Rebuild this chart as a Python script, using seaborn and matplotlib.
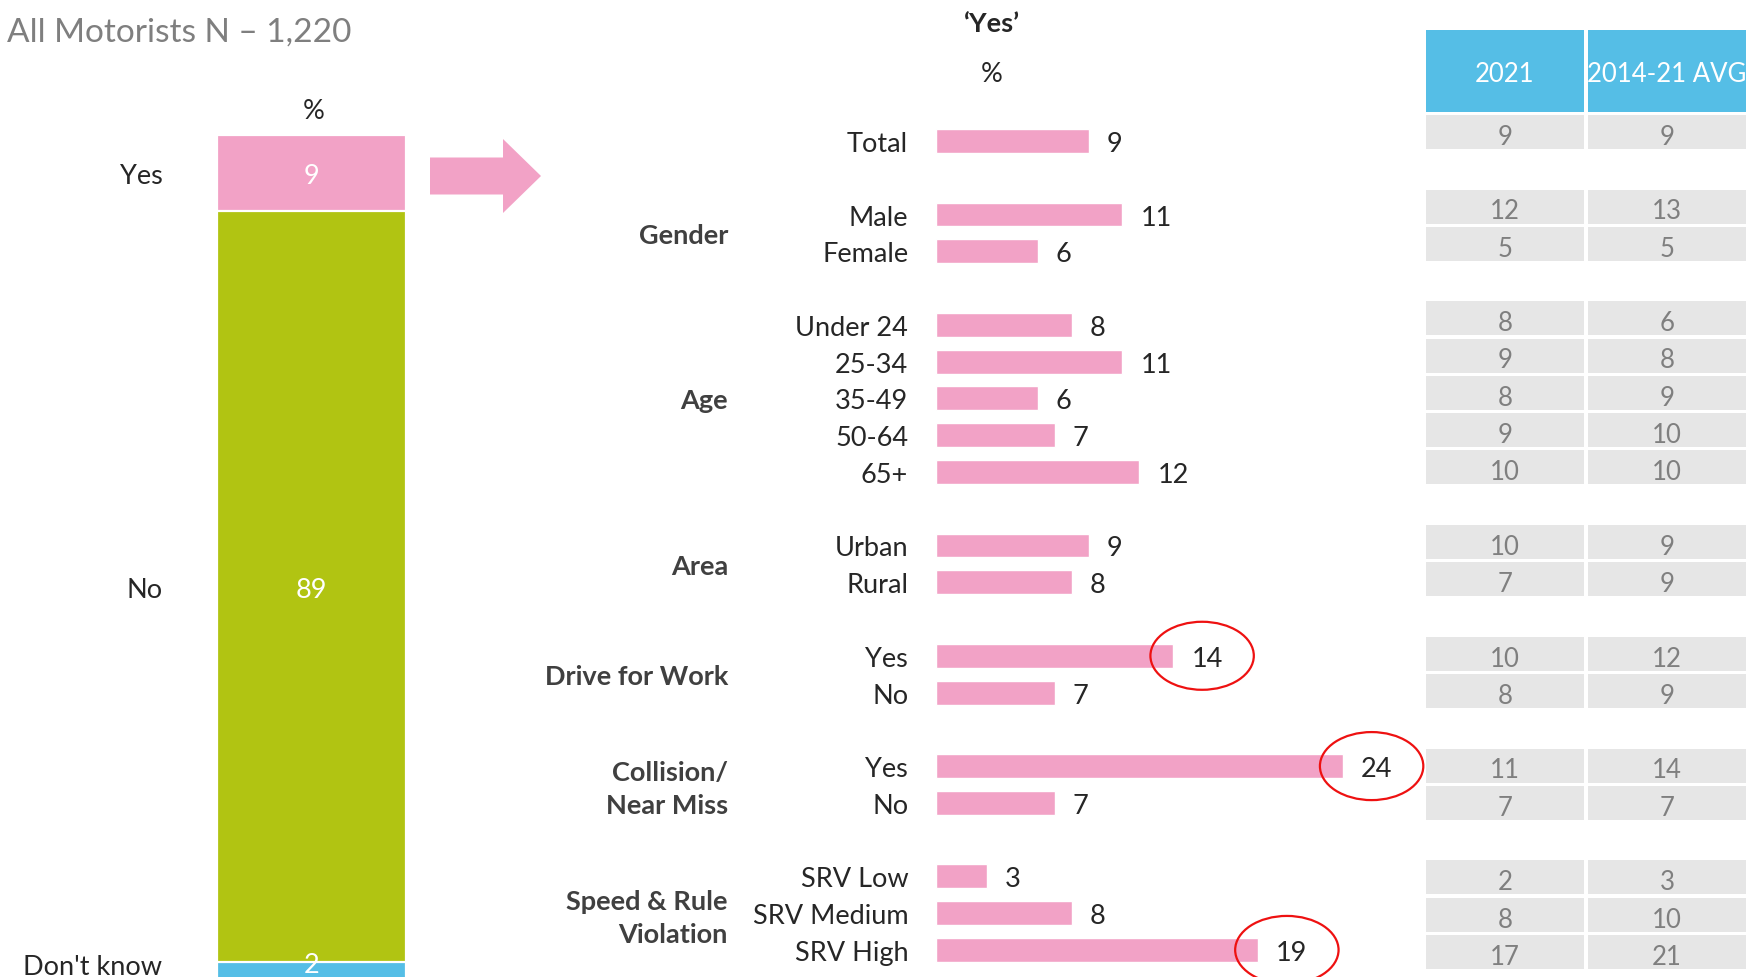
import numpy as np
import pandas as pd
import matplotlib.pyplot as plt
import seaborn as sns
from matplotlib.patches import Ellipse, Polygon, Rectangle
from matplotlib.transforms import blended_transform_factory

sns.set_style('white')
plt.rcParams['font.family'] = ['Lato', 'DejaVu Sans']

# overall answer split (left stacked bar)
answers = ['Yes', 'No', "Don't know"]
answer_pct = [9, 89, 2]

# 'Yes' % by sub-group
group_names = ['', 'Gender', 'Age', 'Area', 'Drive for Work',
               'Collision/\nNear Miss', 'Speed & Rule\nViolation']
group_items = [['Total'],
               ['Male', 'Female'],
               ['Under 24', '25-34', '35-49', '50-64', '65+'],
               ['Urban', 'Rural'],
               ['Yes', 'No'],
               ['Yes', 'No'],
               ['SRV Low', 'SRV Medium', 'SRV High']]
yes_pct = [9, 11, 6, 8, 11, 6, 7, 12, 9, 8, 14, 7, 24, 7, 3, 8, 19]

# comparison table
table_cols = ['2021', '2014-21 AVG']
pct_2021 = [9, 12, 5, 8, 9, 8, 9, 10, 10, 7, 10, 8, 11, 7, 2, 8, 17]
pct_avg = [9, 13, 5, 6, 8, 9, 10, 10, 9, 9, 12, 9, 14, 7, 3, 10, 21]

# rows that get a red ring (Drive for Work Yes, Collision Yes, SRV High)
circled = [10, 12, 16]

pink = '#F2A2C6'
answer_colors = [pink, '#B1C412', '#55BEE6']
FS = 19.5
VA = 'center_baseline'

# row layout: one blank row between groups
rows, labels, group_mid = [], [], []
r = 0
for items in group_items:
    start = r
    for it in items:
        rows.append(r)
        labels.append(it)
        r += 1
    group_mid.append((start + r - 1) / 2)
    r += 1
last_row = r - 2

df = pd.DataFrame({'row': rows, 'label': labels, 'pct': yes_pct})

W, H = 1759, 978
fig = plt.figure(figsize=(W / 100, H / 100), dpi=100)


def box(x0, y0, x1, y1):
    # pixel box (top-left origin) -> figure fraction rect
    return [x0 / W, 1 - y1 / H, (x1 - x0) / W, (y1 - y0) / H]


# ---- left stacked bar ----
lax = fig.add_axes(box(216.5, 136, 406, 136 + 100 * 8.44))
cum = np.cumsum(answer_pct)
for i in range(len(answers) - 1, -1, -1):
    sns.barplot(x=[0], y=[cum[i]], color=answer_colors[i], saturation=1,
                width=1, edgecolor='white', linewidth=1.6, ax=lax)
lax.set_xlim(-0.5, 0.5)
lax.set_ylim(100, 0)
mids = []
for i, v in enumerate(answer_pct):
    start = cum[i] - v
    mid = start + v / 2
    # keep labels inside the visible part of the bar (bottom is cropped)
    mids.append(min(mid, 98.2))
    # small segment: keep the number near its top edge so it stays visible
    ty = mid if v >= 5 else start
    lax.text(0, ty, str(v), color='white', ha='center', va=VA, fontsize=FS)
lax.set_yticks(mids)
lax.set_yticklabels(answers)
lax.tick_params(axis='y', length=0, pad=39, labelsize=FS)
lax.set_xticks([])
lax.set_xlabel('')
lax.set_ylabel('')
sns.despine(ax=lax, left=True, bottom=True)
fig.text(314 / W, 1 - 109 / H, '%', ha='center', va=VA, fontsize=FS)

# arrow
ax0, ax1, hx, cy, sw, hw = 430, 541, 503, 177, 18.5, 37
arrow_px = [(ax0, cy - sw), (hx, cy - sw), (hx, cy - hw), (ax1, cy),
            (hx, cy + hw), (hx, cy + sw), (ax0, cy + sw)]
fig.add_artist(Polygon([(x / W, 1 - y / H) for x, y in arrow_px],
                       closed=True, facecolor=pink, edgecolor='none',
                       transform=fig.transFigure))

# ---- middle bar chart ----
px_pct = 16.95
row_px = 36.77
ax = fig.add_axes(box(936, 142 - 0.5 * row_px, 936 + 30 * px_pct,
                      142 + (last_row + 0.5) * row_px))
sns.barplot(data=df, x='pct', y='row', orient='h', native_scale=True,
            color=pink, saturation=1, width=0.65, errorbar=None, ax=ax)
ax.set_xlim(0, 30)
ax.set_ylim(last_row + 0.5, -0.5)
for t in ax.bar_label(ax.containers[0], padding=13, fontsize=FS):
    t.set_va(VA)
ax.set_yticks(rows)
ax.set_yticklabels(labels)
ax.tick_params(axis='y', length=0, pad=20, labelsize=FS)
ax.set_xticks([])
ax.set_xlabel('')
ax.set_ylabel('')
sns.despine(ax=ax, left=True, bottom=True)

trans = blended_transform_factory(fig.transFigure, ax.transData)
for name, gm in zip(group_names, group_mid):
    if name:
        two_lines = '\n' in name
        ax.text(728 / W, gm + (0.12 if two_lines else 0), name, transform=trans,
                ha='right', va='center' if two_lines else VA,
                fontsize=FS, fontweight='bold', color='#404040', linespacing=1.45)

for i in circled:
    ax.add_patch(Ellipse((yes_pct[i] + 1.7, rows[i]), 6.1, 1.85, fill=False,
                         edgecolor='#EE1111', linewidth=1.6, clip_on=False))

fig.text(992 / W, 1 - 22 / H, '\u2018Yes\u2019', ha='center', va=VA,
         fontsize=FS, fontweight='bold')
fig.text(992 / W, 1 - 72 / H, '%', ha='center', va=VA, fontsize=FS)

# ---- right table ----
trow = 37.27
tax = fig.add_axes(box(1424, 133 - 3 * trow, 1748, 133 + (last_row + 0.5) * trow))
tax.set_xlim(0, 2)
tax.set_ylim(last_row + 0.5, -3)
tax.axis('off')
gap = 0.02
cell_h = 34 / trow
head_top, head_bot = -2.74, -0.54
for c, col in enumerate(table_cols):
    tax.add_patch(Rectangle((c + gap / 2, head_top), 1 - gap, head_bot - head_top,
                            facecolor='#55BEE6', edgecolor='none'))
    tax.text(c + 0.5, (head_top + head_bot) / 2, col, color='white',
             ha='center', va=VA, fontsize=18.5)
    vals = pct_2021 if c == 0 else pct_avg
    for rr, v in zip(rows, vals):
        tax.add_patch(Rectangle((c + gap / 2, rr - cell_h / 2), 1 - gap, cell_h,
                                facecolor='#E6E6E6', edgecolor='none'))
        tax.text(c + 0.5, rr + 0.05, str(v), color='#7F7F7F', ha='center',
                 va=VA, fontsize=18.5)

# title
fig.text(7 / W, 1 - 30 / H, 'All Motorists N \u2013 1,220', color='#7F7F7F',
         fontsize=24, ha='left', va=VA)

fig.savefig('out.png', dpi=100)
